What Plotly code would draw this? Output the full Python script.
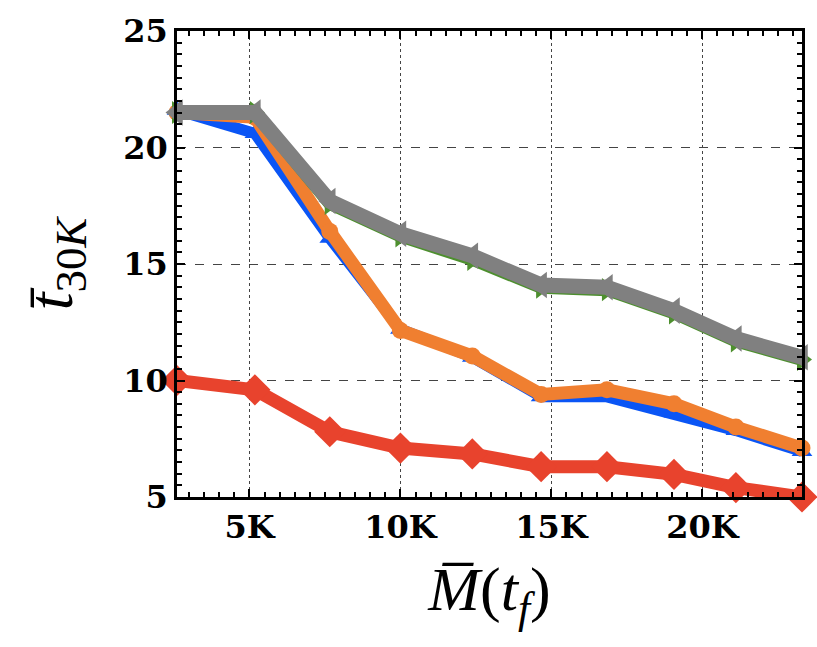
import plotly.graph_objects as go

x_vals = [2600, 5180, 7660, 10000, 12380, 14660, 16840, 19060, 21110, 23300]
blue_vals = [21.6, 20.6, 16.1, 12.2, 11.0, 9.3, 9.3, 8.6, 7.85, 6.95]
orange_vals = [21.5, 21.3, 16.4, 12.15, 11.05, 9.4, 9.6, 9.0, 8.0, 7.1]
green_vals = [21.5, 21.5, 17.6, 16.2, 15.2, 14.0, 13.9, 12.9, 11.7, 10.9]
gray_vals = [21.5, 21.5, 17.7, 16.3, 15.35, 14.1, 14.0, 13.0, 11.8, 11.0]
red_vals = [10.0, 9.6, 7.8, 7.1, 6.85, 6.3, 6.3, 5.97, 5.4, 5.0]

x_ticks = [5000, 10000, 15000, 20000]
x_ticklabels = ["5K", "10K", "15K", "20K"]
y_ticks = [5, 10, 15, 20, 25]

fig = go.Figure()

def add(y, color, symbol, width, size):
    fig.add_trace(go.Scatter(
        x=x_vals, y=y, mode="lines+markers",
        line=dict(color=color, width=width),
        marker=dict(symbol=symbol, size=size, color=color, line=dict(width=0)),
        cliponaxis=False, showlegend=False))

add(red_vals, "#e8432d", "diamond", 13, 24)
add(blue_vals, "#0a55f5", "triangle-up", 11, 18)
add(orange_vals, "#f07f30", "circle", 13, 17)
add(green_vals, "#4d8f2e", "triangle-right", 13, 20)
add(gray_vals, "#808080", "triangle-left", 15, 23)

tickfont = dict(family="DejaVu Serif", size=32, color="black")

fig.update_layout(
    width=817, height=647,
    margin=dict(l=177, r=14, t=25, b=150),
    paper_bgcolor="white", plot_bgcolor="white",
    font=dict(family="DejaVu Serif", color="black"),
    xaxis=dict(
        range=[2600, 23300], tickvals=x_ticks, ticktext=["<b>%s</b>" % t for t in x_ticklabels],
        tickfont=tickfont, ticks="inside", ticklen=8, tickwidth=2, tickcolor="black",
        showline=True, linecolor="black", linewidth=2.5, mirror="allticks",
        showgrid=True, gridcolor="#444444", gridwidth=1.2, griddash="dot",
        minor=dict(dtick=500, tick0=0, ticks="inside", ticklen=5, tickwidth=2, tickcolor="black", showgrid=False),
        zeroline=False,
        title=dict(text="<i>M̅</i>(<i>t<sub>f</sub></i>)", font=dict(family="Liberation Serif", size=62), standoff=22),
    ),
    yaxis=dict(
        range=[5, 25], tickvals=y_ticks, ticktext=["<b>%d</b>" % v for v in y_ticks],
        tickfont=tickfont, ticks="inside", ticklen=8, tickwidth=2, tickcolor="black",
        showline=True, linecolor="black", linewidth=2.5, mirror="allticks",
        showgrid=True, gridcolor="#444444", gridwidth=1.2, griddash="dash",
        minor=dict(dtick=0.5, tick0=0, ticks="inside", ticklen=5, tickwidth=2, tickcolor="black", showgrid=False),
        zeroline=False,
        title=dict(text="<i>t̄</i><sub>30<i>K</i></sub>", font=dict(family="Liberation Serif", size=64), standoff=30),
    ),
)

fig.write_html("out.html")
